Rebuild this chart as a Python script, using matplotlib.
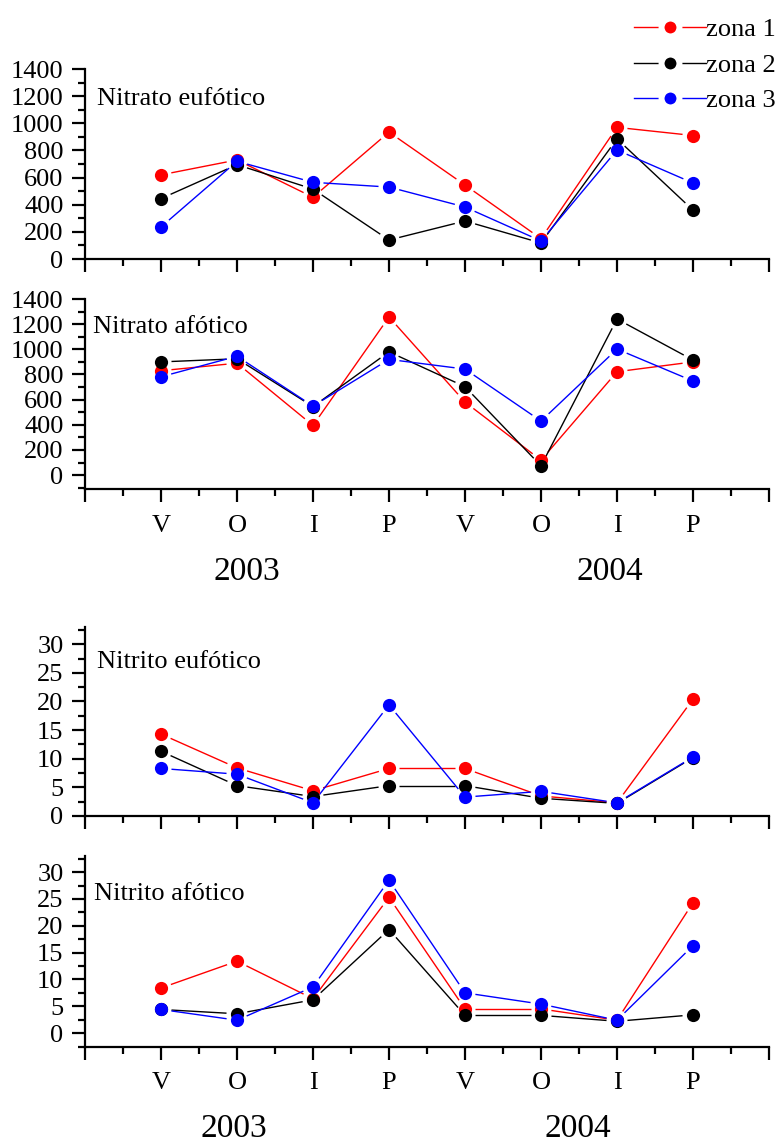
import numpy as np
import matplotlib
matplotlib.use("Agg")
import matplotlib.pyplot as plt
from matplotlib.lines import Line2D
from matplotlib.ticker import MultipleLocator

FS = 19
plt.rcParams['font.family'] = ['Liberation Serif', 'DejaVu Serif']
plt.rcParams['xtick.labelsize'] = FS
plt.rcParams['ytick.labelsize'] = FS

# ---------------- data ----------------
positions = [1, 2, 3, 4, 5, 6, 7, 8]
seasons = ['V', 'O', 'I', 'P', 'V', 'O', 'I', 'P']
years = ['2003', '2004']
zones = ['zona 1', 'zona 2', 'zona 3']
colors = ['#ff0000', '#000000', '#0000ff']

nitrato_ticks = [0, 200, 400, 600, 800, 1000, 1200, 1400]
nitrito_ticks = [0, 5, 10, 15, 20, 25, 30]

nitrato_euf_z1 = [620, 730, 455, 935, 545, 150, 970, 910]
nitrato_euf_z2 = [445, 695, 515, 140, 280, 118, 885, 360]
nitrato_euf_z3 = [236, 720, 565, 530, 383, 133, 803, 560]

nitrato_af_z1 = [830, 890, 395, 1257, 581, 119, 822, 900]
nitrato_af_z2 = [900, 925, 545, 980, 703, 74, 1241, 915]
nitrato_af_z3 = [782, 945, 549, 920, 843, 430, 1002, 748]

nitrito_euf_z1 = [14.3, 8.4, 4.4, 8.3, 8.3, 3.5, 2.3, 20.4]
nitrito_euf_z2 = [11.3, 5.3, 3.4, 5.3, 5.3, 3.1, 2.2, 10.2]
nitrito_euf_z3 = [8.3, 7.3, 2.3, 19.4, 3.3, 4.3, 2.3, 10.3]

nitrito_af_z1 = [8.4, 13.4, 6.4, 25.3, 4.5, 4.5, 2.4, 24.3]
nitrito_af_z2 = [4.4, 3.6, 6.2, 19.3, 3.3, 3.3, 2.2, 3.4]
nitrito_af_z3 = [4.4, 2.4, 8.6, 28.5, 7.5, 5.4, 2.4, 16.3]

panel_titles = ['Nitrato eufótico', 'Nitrato afótico', 'Nitrito eufótico', 'Nitrito afótico']

# ---------------- layout ----------------
W, H = 777, 1144
fig = plt.figure(figsize=(W / 100, H / 100), dpi=100)


def fx(px):
    return px / W


def fy(py):
    return 1 - py / H


AX_L, AX_R = 85, 769
panels = [
    dict(top=69, bot=259, ylim=(0, 1400), yt=nitrato_ticks, minor=100,
         data=[nitrato_euf_z1, nitrato_euf_z2, nitrato_euf_z3], labels=False,
         title=panel_titles[0], tpos=(97, 105)),
    dict(top=299, bot=489, ylim=(-110, 1400), yt=nitrato_ticks, minor=100,
         data=[nitrato_af_z1, nitrato_af_z2, nitrato_af_z3], labels=True,
         title=panel_titles[1], tpos=(93, 333)),
    dict(top=627, bot=816, ylim=(0, 33), yt=nitrito_ticks, minor=2.5,
         data=[nitrito_euf_z1, nitrito_euf_z2, nitrito_euf_z3], labels=False,
         title=panel_titles[2], tpos=(97, 668)),
    dict(top=856, bot=1046.5, ylim=(-2.5, 33), yt=nitrito_ticks, minor=2.5,
         data=[nitrito_af_z1, nitrito_af_z2, nitrito_af_z3], labels=True,
         title=panel_titles[3], tpos=(94, 900)),
]

GAP = 10.5  # pixels of gap between line end and marker centre
MS = 9.5

for p in panels:
    ax = fig.add_axes([fx(AX_L), fy(p['bot']), fx(AX_R - AX_L), (p['bot'] - p['top']) / H])
    ax.set_xlim(0, 9)
    ax.set_ylim(*p['ylim'])
    for s in ['top', 'right']:
        ax.spines[s].set_visible(False)
    for s in ['left', 'bottom']:
        ax.spines[s].set_linewidth(1.6)
    ax.set_xticks([0] + positions + [9])
    ax.xaxis.set_minor_locator(MultipleLocator(0.5))
    if p['labels']:
        ax.set_xticklabels([''] + seasons + [''], fontsize=FS)
    else:
        ax.set_xticklabels([])
    ax.set_yticks(p['yt'])
    ax.set_yticklabels([str(v) for v in p['yt']], fontsize=FS)
    ax.yaxis.set_minor_locator(MultipleLocator(p['minor']))
    ax.tick_params(axis='both', which='major', direction='out', length=9.5, width=1.6)
    ax.tick_params(axis='both', which='minor', direction='out', length=5, width=1.6)
    ax.tick_params(axis='x', which='major', pad=9)
    ax.tick_params(axis='y', which='major', pad=6)
    ax.set_ylim(*p['ylim'])
    ax.patch.set_alpha(0)

    inv = ax.transData.inverted()
    for vals, c in zip(p['data'], colors):
        pts = ax.transData.transform(np.column_stack([positions, vals]))
        for i in range(len(pts) - 1):
            a, b = pts[i], pts[i + 1]
            d = b - a
            L = np.hypot(*d)
            if L <= 2 * GAP:
                continue
            u = d / L
            seg = inv.transform(np.array([a + u * GAP, b - u * GAP]))
            ax.plot(seg[:, 0], seg[:, 1], color=c, lw=1.0, solid_capstyle='butt',
                    zorder=2, clip_on=False)
        ax.plot(positions, vals, 'o', color=c, ms=MS, mec='none', zorder=3, clip_on=False)
    fig.text(fx(p['tpos'][0]), fy(p['tpos'][1]), p['title'], fontsize=FS,
             ha='left', va='baseline')

# year labels
fig.text(fx(246.5), fy(580), years[0], fontsize=24, ha='center', va='baseline')
fig.text(fx(610), fy(580), years[1], fontsize=24, ha='center', va='baseline')
fig.text(fx(234), fy(1137), years[0], fontsize=24, ha='center', va='baseline')
fig.text(fx(578), fy(1137), years[1], fontsize=24, ha='center', va='baseline')

# legend
handles = [Line2D([], [], color=c, lw=1.0, marker='o', mfc=c, mec='white', mew=4.3, ms=12.9)
           for c in colors]
fig.legend(handles, zones, loc='upper right', bbox_to_anchor=(fx(776), fy(18)),
           frameon=False, fontsize=FS, handlelength=2.75, handletextpad=0.0,
           labelspacing=0.45, borderpad=0, borderaxespad=0, numpoints=1)

fig.savefig('out.png', dpi=100)
